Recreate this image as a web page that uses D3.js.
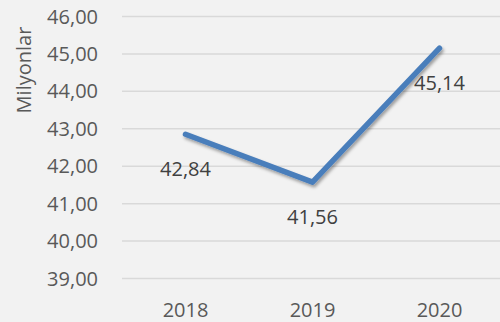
<!DOCTYPE html>
<html>
<head>
<meta charset="utf-8">
<script src="https://cdn.jsdelivr.net/npm/d3@7"></script>
<style>
  html, body { margin: 0; padding: 0; background: #f2f2f2; }
  svg { display: block; }
</style>
</head>
<body>
<script>
// Yearly totals, in millions
const years = ["2018", "2019", "2020"];
const values = [42.84, 41.56, 45.14];
const yTicks = [39, 40, 41, 42, 43, 44, 45, 46];
const yTitle = "Milyonlar";

const W = 500, H = 322;
const margin = { left: 122, right: -3, top: 16, bottom: 44 };

const svg = d3.select("body").append("svg")
  .attr("width", W).attr("height", H);

svg.append("rect").attr("width", W).attr("height", H).attr("fill", "#f2f2f2");

const x = d3.scaleBand()
  .domain(years)
  .range([margin.left, W - margin.right]);

const y = d3.scaleLinear()
  .domain([39, 46])
  .range([H - margin.bottom, margin.top]);

const fmt = v => d3.format(".2f")(v).replace(".", ",");
const font = "'Open Sans', sans-serif";
const fontSize = "20px";

// Gridlines and value axis labels
const yAxis = d3.axisLeft(y).tickValues(yTicks).tickSize(0).tickPadding(0).tickFormat(fmt);
const gy = svg.append("g").attr("transform", `translate(${margin.left},0)`).call(yAxis);
gy.select(".domain").remove();
gy.selectAll(".tick line")
  .attr("x2", W - margin.left)
  .attr("stroke", "#d9d9d9")
  .attr("stroke-width", 1.5);
gy.selectAll(".tick text")
  .attr("x", -24)
  .attr("dy", null)
  .attr("y", 7)
  .attr("fill", "#595959")
  .style("font-family", font)
  .style("font-size", fontSize);

// Category axis labels
const xAxis = d3.axisBottom(x).tickSize(0).tickPadding(0);
const gx = svg.append("g").attr("transform", `translate(0,${H - margin.bottom})`).call(xAxis);
gx.select(".domain").remove();
gx.selectAll(".tick text")
  .attr("dy", null)
  .attr("y", 39)
  .attr("fill", "#595959")
  .style("font-family", font)
  .style("font-size", fontSize);

// Axis title
svg.append("text")
  .attr("transform", `translate(31,70) rotate(-90)`)
  .attr("text-anchor", "middle")
  .attr("fill", "#595959")
  .style("font-family", font)
  .style("font-size", fontSize)
  .text(yTitle);

// Soft drop shadow under the line
const defs = svg.append("defs");
const f = defs.append("filter").attr("id", "shadow")
  .attr("x", "-10%").attr("y", "-10%").attr("width", "120%").attr("height", "130%");
f.append("feDropShadow")
  .attr("dx", 1.5).attr("dy", 2.5).attr("stdDeviation", 1.8)
  .attr("flood-color", "#000").attr("flood-opacity", 0.35);

const pts = years.map((yr, i) => ({ yr, v: values[i] }));
const line = d3.line()
  .x(d => x(d.yr) + x.bandwidth() / 2)
  .y(d => y(d.v));

svg.append("path")
  .datum(pts)
  .attr("d", line)
  .attr("fill", "none")
  .attr("stroke", "#4a7ebb")
  .attr("stroke-width", 5.5)
  .attr("stroke-linecap", "round")
  .attr("stroke-linejoin", "round")
  .attr("filter", "url(#shadow)");

// Data labels, placed below each point
svg.append("g").selectAll("text")
  .data(pts)
  .join("text")
  .attr("x", d => x(d.yr) + x.bandwidth() / 2)
  .attr("y", d => y(d.v) + 42)
  .attr("text-anchor", "middle")
  .attr("fill", "#404040")
  .style("font-family", font)
  .style("font-size", fontSize)
  .text(d => fmt(d.v));
</script>
</body>
</html>
